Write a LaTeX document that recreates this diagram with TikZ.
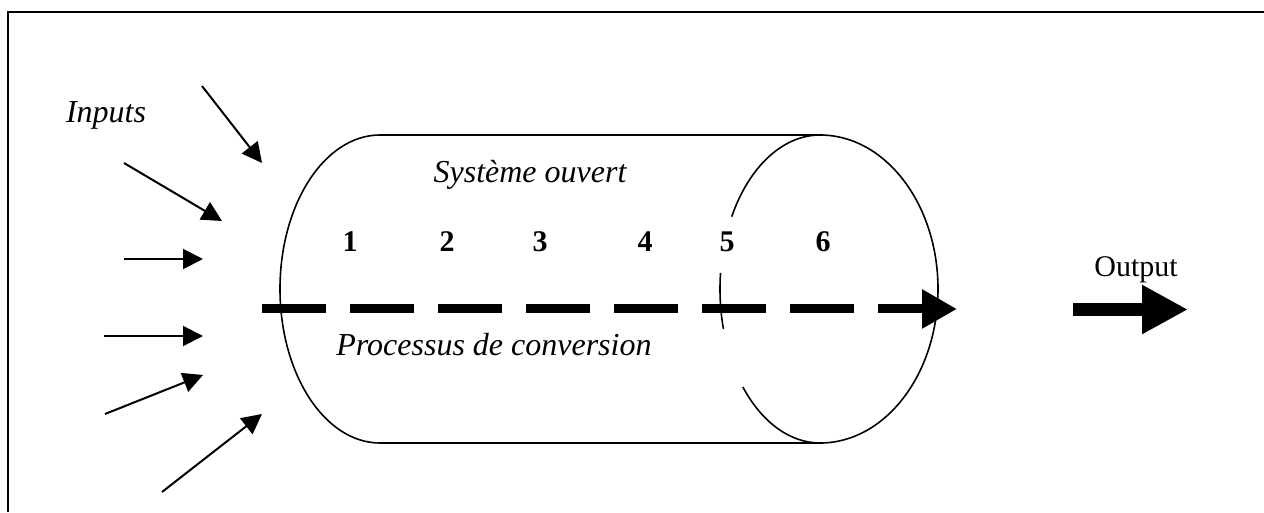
\documentclass[tikz,border=0pt]{standalone}
\usepackage{fontspec}
\setmainfont{Liberation Serif}
\usetikzlibrary{arrows.meta}
\tikzset{
  lbl/.style={anchor=base, inner sep=0pt, font=\fontsize{30}{36}\selectfont},
  lbli/.style={lbl, font=\fontsize{32}{38}\selectfont\itshape},
  num/.style={lbl, font=\fontsize{30}{36}\selectfont\bfseries},
  inarrow/.style={line width=2pt, -{Triangle[length=20pt,width=20pt]}},
  outline/.style={line width=1.6pt},
  flow/.style={line width=9pt, line cap=butt, dash pattern=on 64pt off 24pt, -{Triangle[length=35pt,width=37pt]}},
  bigarrow/.style={line width=13pt, -{Triangle[length=46pt,width=46pt]}}
}
\begin{document}
\begin{tikzpicture}[x=1pt,y=1pt]
\useasboundingbox (0,0) rectangle (1264,512);
% frame
\draw[line width=2pt] (1264,500) -- (8,500) -- (8,0);
% cylinder
\draw[outline] (820,377) -- (380,377)
  arc[start angle=90,end angle=270,x radius=100,y radius=154]
  -- (820,69)
  arc[start angle=-90,end angle=90,x radius=118,y radius=154];
\draw[outline] (820,377) arc[start angle=90,end angle=152,x radius=100,y radius=154];
\draw[outline] (820,223) ++(174:100 and 154) arc[start angle=174,end angle=195,x radius=100,y radius=154];
\draw[outline] (820,223) ++(219.5:100 and 154) arc[start angle=219.5,end angle=270,x radius=100,y radius=154];
% input arrows
\coordinate (a1s) at (202,426); \coordinate (a1e) at (262,349);
\coordinate (a2s) at (124,349); \coordinate (a2e) at (222,291);
\coordinate (a3s) at (124,253); \coordinate (a3e) at (203,253);
\coordinate (a4s) at (104,176); \coordinate (a4e) at (203,176);
\coordinate (a5s) at (105,98);  \coordinate (a5e) at (203,137);
\coordinate (a6s) at (162,20);  \coordinate (a6e) at (262,98);
\foreach \i in {1,...,6} { \draw[inarrow] (a\i s) -- (a\i e); }
% flow
\coordinate (fs) at (262,203); \coordinate (fe) at (957,203);
\draw[flow] (fs) -- (fe);
\coordinate (os) at (1073,202.5); \coordinate (oe) at (1188,202.5);
\draw[bigarrow] (os) -- (oe);
% texts
\node[lbli] (inputs) at (106,389) {Inputs};
\node[lbli] (sys) at (530,329) {Système ouvert};
\node[lbli] (proc) at (494,157) {Processus de conversion};
\node[lbl] (output) at (1136,235) {Output};
\node[num] (n1) at (350,260) {1};
\node[num] (n2) at (447,260) {2};
\node[num] (n3) at (540,260) {3};
\node[num] (n4) at (645,260) {4};
\node[num] (n5) at (727,260) {5};
\node[num] (n6) at (823,260) {6};
\end{tikzpicture}
\end{document}
